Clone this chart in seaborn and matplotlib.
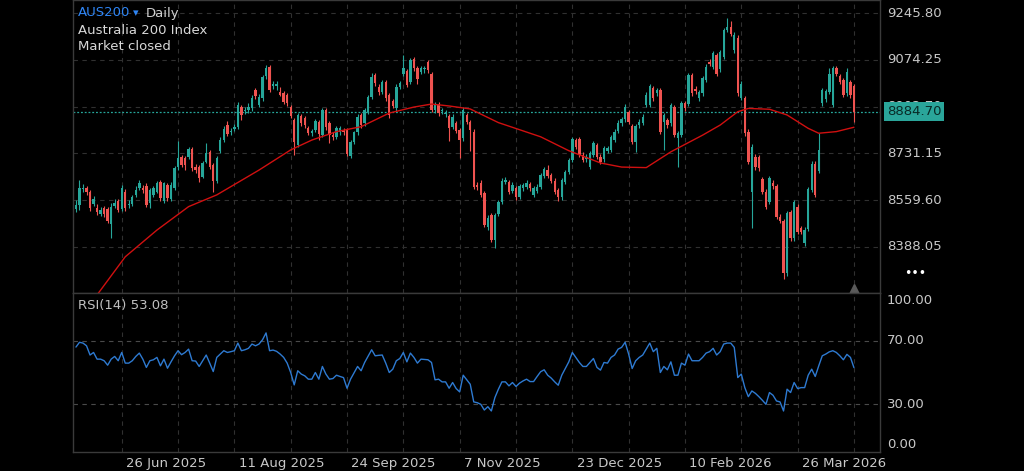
import matplotlib
matplotlib.use("Agg")
import matplotlib.pyplot as plt
import matplotlib.transforms as mtransforms
import numpy as np
import seaborn as sns

# daily candles, bar index 0..221
opens = [
    8527, 8542, 8600, 8603, 8588, 8546, 8532, 8510, 8532, 8527,
    8474, 8540, 8557, 8527, 8591, 8541, 8546, 8578, 8605, 8606,
    8613, 8548, 8578, 8591, 8627, 8558, 8615, 8564, 8605, 8682,
    8717, 8713, 8719, 8747, 8682, 8682, 8646, 8701, 8737, 8688,
    8630, 8740, 8780, 8835, 8810, 8820, 8829, 8902, 8885, 8890,
    8896, 8963, 8908, 8933, 9016, 9049, 8978, 8980, 8957, 8951,
    8945, 8902, 8853, 8762, 8868, 8860, 8825, 8805, 8817, 8847,
    8798, 8890, 8841, 8797, 8792, 8810, 8817, 8817, 8722, 8772,
    8811, 8872, 8841, 8884, 8939, 9018, 8976, 8955, 8992, 8945,
    8923, 8896, 8976, 9024, 9033, 8994, 9077, 9043, 9030, 9040,
    9067, 9021, 8890, 8911, 8885, 8874, 8869, 8829, 8841, 8817,
    8786, 8872, 8847, 8811, 8614, 8624, 8585, 8462, 8505, 8413,
    8509, 8554, 8628, 8627, 8594, 8603, 8572, 8603, 8609, 8619,
    8579, 8595, 8609, 8649, 8670, 8652, 8631, 8597, 8570, 8627,
    8664, 8707, 8780, 8783, 8725, 8709, 8682, 8725, 8762, 8719,
    8709, 8741, 8743, 8780, 8814, 8841, 8856, 8884, 8833, 8774,
    8835, 8844, 8908, 8908, 8970, 8951, 8963, 8847, 8853, 8841,
    8902, 8786, 8799, 8915, 8912, 9018, 8969, 8933, 8951, 9000,
    9067, 9049, 9092, 9039, 9086, 9183, 9195, 9110, 9156, 8936,
    8933, 8811, 8591, 8719, 8719, 8636, 8591, 8554, 8624, 8612,
    8499, 8484, 8291, 8517, 8420, 8536, 8456, 8401, 8453, 8597,
    8694, 8668, 8915, 8930, 8957, 8908, 9043, 9015, 9000, 8951,
    8994, 8978,
]
closes = [
    8541, 8605, 8606, 8591, 8532, 8563, 8517, 8523, 8508, 8483,
    8536, 8550, 8524, 8603, 8530, 8547, 8572, 8597, 8624, 8598,
    8542, 8597, 8603, 8621, 8566, 8621, 8566, 8615, 8676, 8713,
    8689, 8689, 8747, 8676, 8670, 8642, 8695, 8731, 8682, 8630,
    8713, 8780, 8820, 8802, 8815, 8829, 8909, 8872, 8890, 8902,
    8933, 8940, 8939, 9012, 9045, 8963, 8986, 8984, 8947, 8921,
    8915, 8868, 8774, 8872, 8841, 8835, 8805, 8812, 8850, 8801,
    8890, 8829, 8798, 8792, 8823, 8823, 8810, 8728, 8772, 8808,
    8866, 8835, 8890, 8939, 9012, 8988, 8955, 8992, 8933, 8872,
    8906, 8976, 8988, 9045, 8982, 9073, 9043, 9004, 9045, 9043,
    9037, 8890, 8908, 8878, 8890, 8880, 8823, 8866, 8813, 8780,
    8890, 8847, 8817, 8609, 8609, 8578, 8468, 8493, 8413, 8505,
    8554, 8631, 8634, 8591, 8615, 8572, 8611, 8615, 8624, 8603,
    8603, 8609, 8652, 8673, 8648, 8631, 8591, 8570, 8634, 8664,
    8707, 8783, 8756, 8725, 8707, 8718, 8731, 8768, 8719, 8701,
    8750, 8750, 8790, 8811, 8844, 8856, 8902, 8847, 8774, 8831,
    8847, 8866, 8945, 8978, 8933, 8963, 8811, 8872, 8835, 8908,
    8799, 8805, 8915, 8896, 9018, 8951, 8961, 8957, 9006, 9049,
    9059, 9098, 9024, 9104, 9183, 9196, 9170, 9165, 8951, 8985,
    8805, 8701, 8756, 8682, 8676, 8591, 8536, 8640, 8612, 8499,
    8484, 8291, 8511, 8420, 8554, 8444, 8444, 8450, 8599, 8694,
    8579, 8743, 8963, 8960, 9024, 9043, 9024, 8994, 8945, 9031,
    8945, 8884.70,
]
highs = [
    8560, 8633, 8620, 8612, 8596, 8575, 8545, 8535, 8540, 8535,
    8548, 8565, 8565, 8615, 8600, 8560, 8580, 8610, 8632, 8615,
    8622, 8605, 8612, 8630, 8635, 8628, 8622, 8625, 8685, 8776,
    8725, 8722, 8755, 8756, 8692, 8690, 8702, 8770, 8745, 8695,
    8720, 8790, 8830, 8850, 8825, 8838, 8918, 8910, 8900, 8915,
    8945, 8972, 8948, 9020, 9055, 9055, 8998, 8995, 8975, 8960,
    8952, 8910, 8862, 8880, 8876, 8868, 8833, 8822, 8858, 8855,
    8898, 8898, 8850, 8808, 8832, 8830, 8825, 8825, 8780, 8815,
    8875, 8880, 8898, 8946, 9025, 9025, 8985, 9000, 9000, 8952,
    8930, 8985, 8998, 9092, 9040, 9082, 9085, 9050, 9052, 9052,
    9073, 9028, 8918, 8920, 8898, 8890, 8877, 8875, 8850, 8825,
    8900, 8880, 8855, 8820, 8625, 8632, 8592, 8505, 8512, 8513,
    8562, 8640, 8645, 8635, 8625, 8610, 8620, 8622, 8632, 8628,
    8612, 8618, 8660, 8682, 8690, 8660, 8640, 8605, 8642, 8672,
    8715, 8792, 8788, 8790, 8735, 8728, 8740, 8776, 8770, 8728,
    8758, 8760, 8798, 8820, 8852, 8865, 8912, 8892, 8840, 8840,
    8856, 8875, 8955, 8985, 8978, 8972, 8970, 8880, 8862, 8915,
    8910, 8815, 8922, 8925, 9025, 9026, 8978, 8965, 9015, 9058,
    9076, 9107, 9100, 9112, 9192, 9227, 9215, 9175, 9164, 8995,
    8940, 8820, 8765, 8728, 8725, 8645, 8600, 8648, 8632, 8620,
    8510, 8492, 8520, 8525, 8562, 8545, 8465, 8460, 8607, 8702,
    8702, 8805, 8972, 8968, 9045, 9052, 9052, 9022, 9008, 9045,
    9002, 8986,
]
lows = [
    8515, 8524, 8590, 8580, 8520, 8538, 8505, 8500, 8498, 8475,
    8420, 8530, 8515, 8520, 8520, 8530, 8538, 8570, 8598, 8585,
    8535, 8530, 8570, 8585, 8555, 8550, 8555, 8555, 8598, 8672,
    8680, 8672, 8712, 8665, 8660, 8625, 8640, 8695, 8675, 8588,
    8622, 8733, 8772, 8795, 8800, 8812, 8822, 8855, 8875, 8880,
    8888, 8930, 8900, 8925, 9005, 8955, 8968, 8962, 8940, 8912,
    8905, 8860, 8725, 8755, 8832, 8825, 8798, 8795, 8810, 8780,
    8790, 8818, 8770, 8782, 8785, 8800, 8800, 8720, 8715, 8765,
    8800, 8826, 8833, 8876, 8930, 8980, 8945, 8948, 8925, 8862,
    8898, 8888, 8968, 9015, 8975, 8985, 9035, 8985, 9022, 9025,
    9025, 8882, 8880, 8870, 8875, 8865, 8775, 8820, 8805, 8713,
    8778, 8838, 8740, 8600, 8598, 8570, 8460, 8450, 8405, 8383,
    8500, 8546, 8618, 8583, 8585, 8560, 8565, 8595, 8600, 8595,
    8570, 8586, 8600, 8640, 8640, 8622, 8582, 8555, 8562, 8620,
    8656, 8700, 8748, 8718, 8698, 8700, 8675, 8718, 8710, 8692,
    8700, 8732, 8735, 8772, 8806, 8832, 8848, 8838, 8765, 8737,
    8826, 8835, 8900, 8900, 8925, 8940, 8803, 8745, 8826, 8833,
    8790, 8683, 8790, 8885, 8905, 8942, 8950, 8925, 8942, 8992,
    9050, 9040, 9015, 9030, 9078, 9175, 9160, 9100, 8940, 8928,
    8796, 8692, 8456, 8672, 8665, 8582, 8528, 8545, 8600, 8490,
    8475, 8270, 8282, 8410, 8410, 8435, 8435, 8390, 8445, 8588,
    8570, 8660, 8905, 8920, 8948, 8900, 9015, 8985, 8937, 8942,
    8936, 8847,
]

# moving average (red line), read at selected bars
ma_bars = [5, 14, 23, 32, 40, 52, 61, 67, 74, 81, 89, 96, 101, 106, 112, 120,
           132, 140, 149, 155, 162, 169, 178, 183, 188, 191, 197, 202, 208,
           211, 216, 221]
ma_vals = [8195, 8352, 8450, 8536, 8579, 8670, 8744, 8780, 8811, 8829, 8879,
           8901, 8912, 8905, 8894, 8844, 8792, 8741, 8696, 8681, 8679, 8737,
           8798, 8835, 8884, 8896, 8893, 8872, 8823, 8805, 8811, 8827]

rsi = [
    66.0, 69.0, 68.5, 66.8, 61.0, 62.6, 58.4, 58.4, 57.4, 54.6,
    58.4, 60.1, 57.4, 62.6, 55.9, 55.9, 57.4, 60.1, 62.2, 58.4,
    53.2, 57.4, 58.0, 59.5, 54.2, 58.4, 52.7, 56.7, 60.5, 63.7,
    61.2, 62.6, 64.7, 57.4, 57.2, 53.8, 57.4, 61.0, 55.9, 50.6,
    59.5, 61.6, 63.7, 62.6, 63.1, 63.7, 68.5, 63.7, 64.3, 65.2,
    67.9, 66.8, 67.9, 70.6, 74.9, 63.7, 64.1, 63.3, 61.6, 59.5,
    55.9, 50.0, 42.2, 51.1, 49.0, 47.9, 45.8, 45.8, 50.0, 45.8,
    53.8, 49.0, 45.8, 46.2, 48.3, 47.5, 46.8, 40.1, 45.8, 49.8,
    53.8, 51.1, 56.3, 60.3, 64.3, 60.5, 60.8, 61.0, 55.9, 50.0,
    52.1, 57.4, 58.8, 62.6, 56.7, 62.2, 59.5, 55.9, 58.4, 58.2,
    58.0, 56.3, 45.4, 45.8, 44.1, 44.1, 40.1, 43.7, 39.9, 37.8,
    48.3, 45.4, 42.6, 31.5, 31.0, 30.0, 26.4, 28.5, 25.8, 34.2,
    39.5, 44.1, 44.1, 41.6, 43.7, 41.2, 43.3, 44.7, 45.8, 44.3,
    44.3, 47.5, 50.5, 51.7, 48.3, 46.5, 44.1, 42.0, 48.3, 52.5,
    56.7, 62.6, 59.5, 56.3, 53.8, 53.8, 56.3, 58.8, 53.2, 51.5,
    56.3, 55.9, 59.5, 61.0, 64.7, 65.8, 69.0, 61.6, 52.5, 57.4,
    59.5, 61.0, 64.7, 68.5, 63.1, 65.2, 50.0, 53.8, 51.7, 56.7,
    48.3, 48.3, 55.9, 54.6, 61.6, 57.4, 57.4, 57.4, 59.5, 62.2,
    63.1, 65.2, 61.0, 63.1, 67.9, 68.5, 68.5, 65.8, 46.8, 49.0,
    40.5, 34.8, 38.4, 36.9, 34.8, 32.5, 30.0, 37.4, 35.7, 32.1,
    31.5, 25.8, 39.5, 37.4, 43.7, 39.9, 40.5, 40.5, 48.3, 52.1,
    47.5, 54.2, 60.5, 61.6, 63.0, 63.7, 62.6, 60.5, 58.0, 61.4,
    59.5, 53.08,
]

price_ticks = [8388.05, 8559.60, 8731.15, 8902.70, 9074.25, 9245.80]
rsi_ticks = [100, 70, 30, 0]
date_bars = [13, 45, 77, 109, 141, 173, 205]
date_labels = ["26 Jun 2025", "11 Aug 2025", "24 Sep 2025", "7 Nov 2025",
               "23 Dec 2025", "10 Feb 2026", "26 Mar 2026"]
last_price = 8884.70

UP = "#26a69a"
DOWN = "#ef5350"
GRID = "#303030"
SPINE = "#3a3a3a"
TXT = "#c8c8c8"

sns.set_theme(style="dark")
plt.rcParams["font.family"] = ["DejaVu Sans"]

W, H = 1024, 471
fig = plt.figure(figsize=(W / 100, H / 100), dpi=100, facecolor="black")

def box(l, t, r, b):
    return [l / W, 1 - b / H, (r - l) / W, (b - t) / H]

ax = fig.add_axes(box(73, 0, 880, 293))
ax_r = fig.add_axes(box(73, 293, 880, 452), sharex=ax)

n = len(closes)
idx = np.arange(n)
o = np.array(opens, dtype=float)
c = np.array(closes, dtype=float)
colors = [UP if cc >= oo else DOWN for oo, cc in zip(o, c)]

for a in (ax, ax_r):
    a.set_facecolor("black")
    for s in a.spines.values():
        s.set_color(SPINE)
        s.set_linewidth(1.0)
    a.grid(False)
    for b in range(13, 230, 16):
        a.axvline(b, color=GRID, lw=0.8, ls=(0, (4, 4)), zorder=0)

# candles
ax.vlines(idx, lows, highs, colors=colors, lw=0.8, zorder=2)
body_low = np.minimum(o, c)
body_h = np.maximum(np.abs(c - o), 3)
ax.bar(idx, body_h, bottom=body_low, width=0.68, color=colors, lw=0, zorder=3)

# moving average
sns.lineplot(x=ma_bars, y=ma_vals, ax=ax, color="#d01010", lw=1.0, zorder=4)

for p in price_ticks:
    ax.axhline(p, color=GRID, lw=0.8, ls=(0, (4, 4)), zorder=0)
ax.axhline(last_price, color=UP, lw=0.9, ls=(0, (1.5, 1.5)), zorder=1)

ax.set_xlim(-0.84, 228.4)
ax.set_ylim(8219.3, 9293.5)
ax.set_xticks([])
ax.set_yticks([])
ax.set_xlabel("")
ax.set_ylabel("")

ytr = ax.get_yaxis_transform()
for p in price_ticks:
    ax.text(1.0087, p, f"{p:.2f}", transform=ytr, ha="left", va="center",
            color=TXT, fontsize=9.5, clip_on=False)
ax.text(1.0087, last_price, f"{last_price:.2f}", transform=ytr, ha="left",
        va="center", color="#082a26", fontsize=9.5, clip_on=False, zorder=10,
        bbox=dict(boxstyle="square,pad=0.22", facecolor="#2aa59a",
                  edgecolor="none"))

# marker under last bar
ax.plot([n - 1], [0.015], marker="^", color="#5a5a5a", markersize=7,
        transform=mtransforms.blended_transform_factory(ax.transData, ax.transAxes),
        clip_on=False, zorder=5)

# RSI panel
sns.lineplot(x=idx, y=rsi, ax=ax_r, color="#2e7ad1", lw=1.0, zorder=3)
for lv in (70, 30):
    ax_r.axhline(lv, color="#4a4a4a", lw=0.8, ls=(0, (4, 4)), zorder=0)
ax_r.set_ylim(0, 100)
ax_r.set_yticks([])
ax_r.set_xlabel("")
ax_r.set_ylabel("")
ax_r.set_xticks(date_bars)
ax_r.set_xticklabels([""] * len(date_bars))
ax_r.tick_params(axis="x", length=3, color="#555555", width=0.8)

rtr = ax_r.get_yaxis_transform()
rsi_label_pos = {100: 95, 70: 70, 30: 30, 0: 5}
for lv in rsi_ticks:
    ax_r.text(1.0087, rsi_label_pos[lv], f"{lv:.2f}", transform=rtr, ha="left",
              va="center", color=TXT, fontsize=9.5, clip_on=False)

xtr = ax_r.get_xaxis_transform()
for b, lab in zip(date_bars, date_labels):
    ax_r.text(b + 1.2, -0.07, lab, transform=xtr, ha="left", va="center",
              color=TXT, fontsize=9.5, clip_on=False)

# header texts
fig.text(78 / W, 1 - 13 / H, "AUS200", color="#2f86f6", fontsize=9.5,
         ha="left", va="center")
fig.text(133 / W, 1 - 13 / H, "\u25be", color="#2f86f6", fontsize=8,
         ha="left", va="center")
fig.text(146 / W, 1 - 13 / H, "Daily", color="#d0d0d0", fontsize=9.5,
         ha="left", va="center")
fig.text(78 / W, 1 - 30 / H, "Australia 200 Index", color="#d8d8d8",
         fontsize=9.5, ha="left", va="center")
fig.text(78 / W, 1 - 46 / H, "Market closed", color="#d8d8d8", fontsize=9.5,
         ha="left", va="center")
fig.text(78 / W, 1 - 305 / H, "RSI(14) 53.08", color="#c0c0c0", fontsize=9.5,
         ha="left", va="center")
fig.text(915 / W, 1 - 274 / H, "\u2022\u2022\u2022", color="white",
         fontsize=9, ha="center", va="center")

fig.savefig("out.png", dpi=100, facecolor="black")
